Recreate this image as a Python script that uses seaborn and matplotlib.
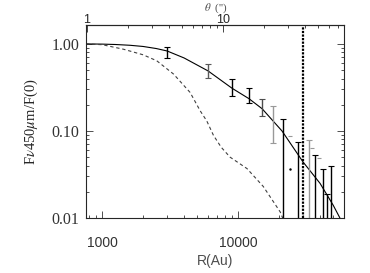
import numpy as np
import pandas as pd
import seaborn as sns
import matplotlib
matplotlib.use("Agg")
import matplotlib.pyplot as plt
from matplotlib.ticker import FixedLocator, NullFormatter, LogLocator

# model curves (R in AU, normalised flux)
r_model = [760, 1000, 1250, 1600, 2000, 2500, 3000, 4000, 6000, 9000, 12000, 15000, 21000, 30000, 40000, 50000, 56000]
f_model = [1.0, 0.995, 0.985, 0.965, 0.935, 0.885, 0.83, 0.69, 0.49, 0.31, 0.235, 0.18, 0.10, 0.044, 0.025, 0.014, 0.01]

r_dash = [760, 1000, 1430, 2000, 2520, 3350, 4430, 5260, 5880, 6580, 7500, 8720, 11600, 15300, 20400, 21500]
f_dash = [1.0, 0.98, 0.87, 0.75, 0.64, 0.45, 0.277, 0.17, 0.13, 0.089, 0.065, 0.050, 0.037, 0.023, 0.0117, 0.0095]

# observed points: top and bottom of each error bar
r_err = [3000, 6000, 9000, 12000, 15000, 18000, 21400, 27500, 33000, 36600, 42000, 45300, 48300]
err_hi = [0.92, 0.59, 0.40, 0.31, 0.235, 0.195, 0.139, 0.074, 0.078, 0.053, 0.037, 0.019, 0.040]
err_lo = [0.69, 0.41, 0.25, 0.21, 0.15, 0.072, 0.005, 0.005, 0.005, 0.005, 0.005, 0.005, 0.005]
err_col = ['k', '0.35', 'k', 'k', '0.3', '0.6', 'k', 'k', '0.6', 'k', 'k', 'k', 'k']

# stray markers
r_dots = [24100, 35000, 39000]
f_dots = [0.087, 0.064, 0.049]

r_edge = 30000
dist_pc = 770

sns.set_style("ticks")
plt.rcParams['mathtext.fontset'] = 'stix'
plt.rcParams['font.family'] = ['Liberation Serif', 'DejaVu Serif']

fig = plt.figure(figsize=(3.7, 2.73), dpi=100)
ax = fig.add_axes([86 / 370, 55 / 273, 258 / 370, 193 / 273])

sns.lineplot(x=r_model, y=f_model, ax=ax, color='k', lw=0.8, estimator=None, sort=False)
sns.lineplot(x=r_dash, y=f_dash, ax=ax, color='0.25', lw=0.8, estimator=None, sort=False,
             linestyle=(0, (3, 2.5)))

for r, hi, lo, c in zip(r_err, err_hi, err_lo, err_col):
    mid = np.sqrt(hi * lo)
    ax.errorbar([r], [mid], yerr=[[mid - lo], [hi - mid]], fmt='none', ecolor=c,
                elinewidth=1.0, capsize=2, capthick=0.8)

ax.plot(r_dots, f_dots, ls='none', marker='_', ms=3, color='0.6', mew=0.8)
ax.plot([24100], [0.037], ls='none', marker='.', ms=1.5, color='k')

ax.axvline(r_edge, color='k', lw=1.6, linestyle=(0, (1, 0.6)))

ax.set_xscale('log')
ax.set_yscale('log')
ax.set_xlim(760, 60000)
ax.set_ylim(0.01, 1.65)

ax.yaxis.set_major_locator(FixedLocator([0.01, 0.1, 1.0]))
ax.set_yticklabels(['0.01', '0.10', '1.00'], fontsize=11.5)
ax.yaxis.set_minor_locator(LogLocator(base=10, subs=np.arange(2, 10)))
ax.yaxis.set_minor_formatter(NullFormatter())
ax.xaxis.set_major_locator(FixedLocator([1000, 10000]))
ax.set_xticklabels(['1000', '10000'], fontsize=10, family='Liberation Sans', color='0.25')
ax.xaxis.set_minor_locator(LogLocator(base=10, subs=np.arange(2, 10)))
ax.xaxis.set_minor_formatter(NullFormatter())
ax.tick_params(which='both', direction='in', right=True, top=False, width=0.6, colors='0.2')
ax.tick_params(which='major', length=5)
ax.tick_params(which='minor', length=2.5)
ax.tick_params(axis='x', pad=13)
ax.tick_params(axis='y', pad=5)
for s in ax.spines.values():
    s.set_linewidth(0.8)

ax.set_xlabel('R(Au)', fontsize=10, family='Liberation Sans', color='0.3', labelpad=3)
ax.set_ylabel(r'F$\nu$450$\mu$m/F(0)', fontsize=10.5, labelpad=8)

sec = ax.secondary_xaxis('top', functions=(lambda r: r / dist_pc, lambda t: t * dist_pc))
sec.xaxis.set_major_locator(FixedLocator([1, 10]))
sec.set_xticklabels(['1', '10'], fontsize=9, family='Liberation Sans')
sec.xaxis.set_minor_locator(LogLocator(base=10, subs=np.arange(2, 10)))
sec.xaxis.set_minor_formatter(NullFormatter())
sec.tick_params(which='both', direction='in', width=0.6, pad=-1)
sec.tick_params(which='major', length=5)
sec.tick_params(which='minor', length=2.5)
fig.text(216 / 370, 1 - 8 / 273, r"$\theta$  ('')", fontsize=8, ha='center', va='center', color='0.3')

fig.savefig('out.png', dpi=100)
